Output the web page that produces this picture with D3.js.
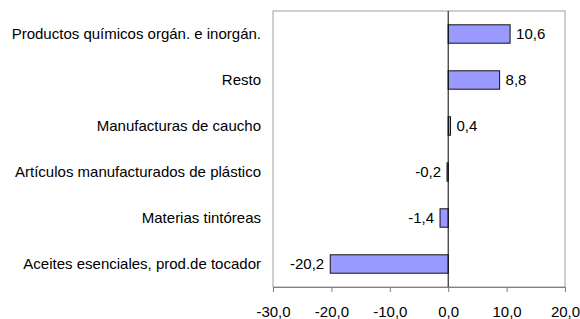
<!DOCTYPE html>
<html>
<head>
<meta charset="utf-8">
<script src='https://d3js.org/d3.v7.min.js'></script>
<style>
 body {margin:0; background:#fff;}
 text {font-family: Arial, 'Liberation Sans', sans-serif; font-size:15px; fill:#000;}
</style>
</head>
<body onload='init()'>
<svg width=580 height=319>
</svg>
<script>

// data
var categories = ['Productos químicos orgán. e inorgán.', 'Resto', 'Manufacturas de caucho',
  'Artículos manufacturados de plástico', 'Materias tintóreas', 'Aceites esenciales, prod.de tocador'];
var values = [10.6, 8.8, 0.4, -0.2, -1.4, -20.2];
var ticks = [-30, -20, -10, 0, 10, 20];

function fmt(v) { return d3.format('.1f')(v).replace('−', '-').replace('.', ','); }

function init() {

 var left = 273, right = 565, top = 11, bottom = 287;

 var x = d3.scaleLinear().domain([-30,20]).range([left,right]);
 var y = d3.scaleBand().domain(categories).range([top,bottom]).paddingInner(0.6).paddingOuter(0.3);

 var svg = d3.select('svg');

 // plot frame
 svg.append('rect')
   .attr('x', left).attr('y', top)
   .attr('width', right-left).attr('height', bottom-top)
   .style('fill', 'none').style('stroke', '#a0a0a0');

 // bars
 svg.selectAll('rect.bar')
   .data(values)
   .enter()
   .append('rect')
     .attr('class', 'bar')
     .attr('x', function (d) { return x(Math.min(0,d)); })
     .attr('y', function (d,i) { return y(categories[i]); })
     .attr('width', function (d) { return Math.abs(x(d)-x(0)); })
     .attr('height', y.bandwidth())
     .style('fill', '#9999ff').style('stroke', '#111').style('stroke-width', 1);

 // zero line
 svg.append('line')
   .attr('x1', x(0)).attr('x2', x(0)).attr('y1', top).attr('y2', bottom)
   .style('stroke', '#000');

 // value labels
 svg.selectAll('text.val')
   .data(values)
   .enter()
   .append('text')
     .attr('class', 'val')
     .attr('x', function (d) { return d >= 0 ? x(d)+6 : x(d)-6; })
     .attr('y', function (d,i) { return y(categories[i]) + y.bandwidth()/2; })
     .attr('dy', '0.35em')
     .attr('text-anchor', function (d) { return d >= 0 ? 'start' : 'end'; })
     .text(function (d) { return fmt(d); });

 // category labels
 svg.selectAll('text.cat')
   .data(categories)
   .enter()
   .append('text')
     .attr('class', 'cat')
     .attr('x', 261)
     .attr('y', function (d) { return y(d) + y.bandwidth()/2; })
     .attr('dy', '0.35em')
     .attr('text-anchor', 'end')
     .text(function (d) { return d; });

 // x axis
 var ax = svg.append('g')
   .attr('transform', 'translate(0,' + bottom + ')')
   .call(d3.axisBottom(x).tickValues(ticks).tickSize(5).tickPadding(14).tickFormat(fmt));
 ax.selectAll('path, line').style('stroke', '#808080');
 ax.selectAll('text').style('font-size', '15px').style('font-family', "Arial, 'Liberation Sans', sans-serif");

}

</script>
</body>
</html>
